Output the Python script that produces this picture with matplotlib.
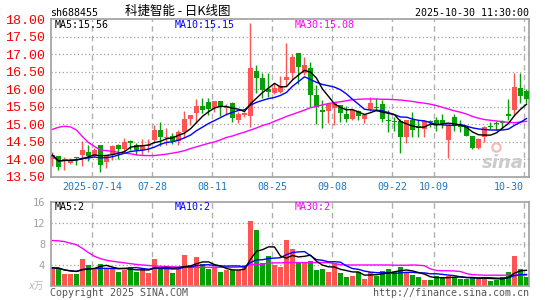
import numpy as np
import pandas as pd
import matplotlib
matplotlib.use("Agg")
import matplotlib.pyplot as plt

# ---------------- data ----------------
dates = ["2025-07-14", "07-28", "08-11", "08-25", "09-08", "09-22", "10-09", "10-30"]
date_idx = [7, 17, 27, 37, 47, 57, 64, 79]

opens = [13.99, 14.09, 13.93, 13.89, 14.05, 14.12, 14.21, 14.09, 14.41, 13.91,
         14.15, 14.41, 14.28, 14.52, 14.41, 14.26, 14.36, 14.55, 14.83, 14.59,
         14.67, 14.52, 14.78, 15.14, 15.31, 15.52, 15.63, 15.45, 15.67, 15.46,
         15.60, 15.12, 15.26, 15.24, 16.52, 16.33, 16.00, 15.88, 15.92, 16.26,
         16.45, 17.04, 16.45, 16.60, 15.83, 15.39, 15.38, 15.45, 15.54, 15.29,
         15.16, 15.37, 15.15, 15.44, 15.50, 15.57, 15.11, 15.10, 15.08, 14.63,
         15.13, 14.94, 14.85, 15.10, 15.11, 15.13, 14.54, 15.19, 14.97, 14.93,
         14.66, 14.31, 14.63, 14.96, 15.02, 15.06, 15.29, 15.40, 16.03, 15.96]
highs = [14.21, 14.09, 14.06, 14.04, 14.07, 14.52, 14.40, 14.31, 14.41, 14.12,
         14.39, 14.42, 14.59, 14.55, 14.47, 14.57, 14.57, 14.97, 15.07, 14.90,
         14.74, 14.83, 15.38, 15.26, 15.72, 15.76, 15.74, 15.67, 15.67, 15.57,
         15.62, 15.36, 15.36, 17.90, 16.70, 16.45, 16.45, 16.17, 16.38, 17.31,
         17.00, 17.04, 16.93, 16.79, 16.12, 15.69, 15.59, 15.61, 15.56, 15.52,
         15.40, 15.40, 15.26, 15.77, 15.74, 15.69, 15.40, 15.20, 15.15, 15.12,
         15.35, 15.12, 15.11, 15.13, 15.20, 15.29, 15.00, 15.29, 15.13, 14.93,
         14.66, 14.60, 14.95, 15.06, 15.08, 15.13, 15.72, 16.45, 16.45, 16.00]
lows = [13.80, 13.68, 13.70, 13.85, 13.84, 13.79, 13.93, 14.07, 13.62, 13.75,
        13.98, 14.00, 14.22, 14.25, 14.12, 14.12, 14.21, 14.45, 14.36, 14.40,
        14.42, 14.40, 14.60, 14.97, 15.03, 15.31, 15.26, 15.36, 15.22, 15.26,
        15.05, 15.03, 15.20, 14.92, 15.90, 15.74, 15.78, 15.86, 15.88, 16.10,
        16.30, 16.15, 16.42, 15.50, 15.00, 14.90, 15.02, 14.97, 15.07, 15.07,
        15.12, 15.12, 15.04, 15.37, 15.38, 15.05, 14.77, 14.80, 14.18, 14.45,
        14.62, 14.64, 14.62, 14.93, 14.80, 14.88, 14.04, 14.80, 14.78, 14.65,
        14.30, 14.30, 14.48, 14.86, 14.83, 14.88, 15.13, 15.23, 15.61, 15.60]
closes = [14.11, 13.78, 13.99, 13.97, 14.03, 14.25, 14.08, 14.26, 13.84, 14.09,
          14.36, 14.29, 14.48, 14.47, 14.25, 14.41, 14.40, 14.83, 14.64, 14.63,
          14.52, 14.78, 15.14, 15.26, 15.52, 15.41, 15.44, 15.67, 15.50, 15.50,
          15.17, 15.30, 15.33, 16.60, 16.31, 15.98, 15.93, 16.02, 16.08, 16.36,
          16.93, 16.64, 16.69, 15.83, 15.50, 15.36, 15.59, 15.61, 15.33, 15.16,
          15.40, 15.23, 15.25, 15.60, 15.47, 15.15, 15.08, 15.05, 14.64, 15.12,
          14.84, 14.89, 15.09, 15.07, 15.00, 15.00, 14.98, 14.98, 14.93, 14.66,
          14.33, 14.58, 14.93, 14.92, 14.99, 15.02, 15.23, 16.07, 15.80, 15.72]
ma30_price = [14.85, 14.91, 14.94, 14.92, 14.83, 14.64, 14.47, 14.36, 14.26, 14.24,
              14.22, 14.19, 14.17, 14.15, 14.12, 14.10, 14.10, 14.10, 14.12, 14.14,
              14.17, 14.20, 14.24, 14.30, 14.35, 14.40, 14.45, 14.49, 14.55, 14.62,
              14.66, 14.72, 14.77, 14.83, 14.89, 14.96, 15.01, 15.08, 15.15, 15.22,
              15.28, 15.34, 15.40, 15.47, 15.51, 15.55, 15.59, 15.62, 15.64, 15.67,
              15.70, 15.71, 15.72, 15.72, 15.72, 15.71, 15.71, 15.70, 15.69, 15.67,
              15.65, 15.62, 15.60, 15.57, 15.53, 15.48, 15.43, 15.38, 15.34, 15.29,
              15.22, 15.17, 15.13, 15.11, 15.09, 15.07, 15.05, 15.04, 15.06, 15.08]
volumes = [3.4, 3.3, 2.3, 2.3, 2.3, 5.0, 4.0, 2.9, 4.2, 3.3,
           3.3, 2.7, 2.9, 3.5, 2.7, 3.3, 2.5, 5.0, 3.4, 3.3,
           2.5, 3.1, 5.9, 4.0, 5.4, 4.2, 3.2, 3.3, 2.7, 3.0,
           2.9, 3.0, 4.0, 12.3, 10.6, 4.4, 5.7, 3.9, 3.6, 8.7,
           6.9, 4.3, 4.5, 4.7, 2.9, 3.2, 2.7, 4.3, 2.5, 1.7,
           1.9, 2.7, 1.25, 2.7, 1.9, 2.85, 3.25, 2.6, 3.65, 2.6,
           2.0, 1.7, 1.1, 1.05, 1.9, 1.7, 1.9, 1.6, 1.3, 1.3,
           1.7, 1.2, 1.7, 0.95, 1.05, 1.6, 2.7, 5.6, 3.2, 1.6]
ma30_vol = [8.6, 8.55, 8.4, 8.1, 7.8, 7.1, 6.3, 5.6, 5.15, 4.85,
            4.65, 4.5, 4.35, 4.2, 4.05, 3.95, 3.85, 3.75, 3.7, 3.65,
            3.6, 3.55, 3.5, 3.5, 3.5, 3.5, 3.5, 3.5, 3.5, 3.5,
            3.5, 3.55, 3.6, 4.0, 4.05, 4.1, 4.3, 4.35, 4.35, 4.4,
            4.4, 4.4, 4.4, 4.4, 4.4, 4.4, 4.4, 4.2, 4.0, 3.95,
            3.95, 3.95, 3.95, 3.95, 3.95, 3.95, 3.95, 3.9, 3.9, 3.9,
            3.95, 3.9, 3.8, 3.2, 2.9, 2.85, 2.85, 2.8, 2.7, 2.3,
            2.1, 2.05, 2.0, 2.0, 2.0, 2.0, 2.0, 2.0, 2.0, 2.05]
price_ticks = [13.5, 14.0, 14.5, 15.0, 15.5, 16.0, 16.5, 17.0, 17.5, 18.0]
vol_ticks = [4, 8, 12, 16]

# ---------------- style ----------------
W, H = 545, 300
RED, GREEN = "#ff5454", "#05a005"
MONO = "DejaVu Sans Mono"

fig = plt.figure(figsize=(W / 100, H / 100), dpi=100)
fig.patch.set_facecolor("white")


def rect(x0, y0, x1, y1):
    return [x0 / W, 1 - y1 / H, (x1 - x0) / W, (y1 - y0) / H]


def ftext(x, y, s, **kw):
    kw.setdefault("va", "center")
    return fig.text(x / W, 1 - y / H, s, **kw)


ax = fig.add_axes(rect(50.7, 19.35, 529.3, 176.5))
axv = fig.add_axes(rect(50.7, 201.7, 529.3, 285.7))

o = np.array(opens); h = np.array(highs); l = np.array(lows); c = np.array(closes)
v = np.array(volumes)
x = np.arange(len(o))
up = c >= o
cols = np.where(up, RED, GREEN)

ma5 = pd.Series(c).rolling(5, min_periods=1).mean().values
ma10 = pd.Series(c).rolling(10, min_periods=1).mean().values
vma5 = pd.Series(v).rolling(5, min_periods=1).mean().values
vma10 = pd.Series(v).rolling(10, min_periods=1).mean().values

xl = (-0.3, 79.47)
vline_pos = [i - 0.4 for i in date_idx]

for a in (ax, axv):
    a.set_xlim(*xl)
    for s in a.spines.values():
        s.set_color("#a0a0a0")
        s.set_linewidth(1.2)
    for p in vline_pos:
        a.axvline(p, color="#b0b0b0", lw=1, ls=(0, (4, 3)), zorder=0)
    a.tick_params(length=0)

# price panel
ax.set_ylim(13.5, 18.0)
for t in price_ticks[1:-1]:
    ax.axhline(t, color="#a0a0a0", lw=0.9, ls=(0, (1, 2)), zorder=0)
ax.vlines(x, l, h, colors=cols, lw=1, zorder=2)
ax.bar(x, np.maximum(np.abs(c - o), 0.02), bottom=np.minimum(o, c), width=0.8,
       color=cols, linewidth=0, zorder=3)
ax.plot(x, ma30_price, color="#ff00ff", lw=1, zorder=4)
ax.plot(x, ma10, color="#0000ff", lw=1, zorder=4)
ax.plot(x, ma5, color="black", lw=1, zorder=4)
ax.set_yticks(price_ticks)
ax.set_yticklabels([f"{t:.2f}" for t in price_ticks], color="#ff0000",
                   family="Liberation Mono", fontsize=9.6)
ax.tick_params(axis="y", pad=4)
ax.set_xticks(vline_pos)
ax.set_xticklabels(dates, color="#1a7ac4", family=MONO, fontsize=7.2)
ax.tick_params(axis="x", pad=4)
lbls = ax.get_xticklabels()
lbls[-1].set_ha("right")

# watermark
ax.text(0.945, 0.085, "sina", transform=ax.transAxes, ha="center", va="center",
        fontsize=13, fontweight="bold", style="italic", color="#cbcbcb", zorder=1)
ax.plot([0.93], [0.19], transform=ax.transAxes, marker="o", ms=6,
        mfc="none", mec="#f2bcbc", mew=1.6, zorder=1)

# volume panel
axv.set_ylim(0, 16)
for t in vol_ticks[:-1]:
    axv.axhline(t, color="#a0a0a0", lw=0.9, ls=(0, (1, 2)), zorder=0)
axv.bar(x, v, width=0.8, color=cols, linewidth=0, zorder=2)
axv.plot(x, ma30_vol, color="#ff00ff", lw=1, zorder=4)
axv.plot(x, vma10, color="#0000ff", lw=1, zorder=4)
axv.plot(x, vma5, color="black", lw=1, zorder=4)
axv.set_yticks(vol_ticks)
axv.set_yticklabels([str(t) for t in vol_ticks], color="#a0a0a0", family=MONO, fontsize=7.5)
axv.tick_params(axis="y", pad=4)
axv.set_xticks([])

# texts
ftext(50, 12.5, "sh688455", family=MONO, fontsize=7.2, color="black")
ftext(178, 11.5, "科捷智能 - 日K线图", family=["Noto Sans CJK SC", "DejaVu Sans"],
      fontsize=9, color="black", ha="center")
ftext(529.3, 12.5, "2025-10-30 11:30:00", family=MONO, fontsize=7.2, color="black", ha="right")
ftext(55, 24.5, "MA5:15.56", family=MONO, fontsize=7.2, color="black")
ftext(174.5, 24.5, "MA10:15.15", family=MONO, fontsize=7.2, color="#0000ff")
ftext(295, 24.5, "MA30:15.08", family=MONO, fontsize=7.2, color="#ff00ff")
ftext(55, 206.5, "MA5:2", family=MONO, fontsize=7.2, color="black")
ftext(175, 206.5, "MA10:2", family=MONO, fontsize=7.2, color="#0000ff")
ftext(295, 206.5, "MA30:2", family=MONO, fontsize=7.2, color="#ff00ff")
ftext(44, 285.5, "x万", family=["DejaVu Sans", "Noto Sans CJK SC"], fontsize=7,
      color="#b8b8b8", ha="right", style="italic")
ftext(50, 292.5, "Copyright 2025 SINA.COM", family=MONO, fontsize=7.2, color="#555555")
ftext(529.3, 292.5, "http://finance.sina.com.cn", family=MONO, fontsize=7.2,
      color="#555555", ha="right")

fig.savefig("out.png", dpi=100)
